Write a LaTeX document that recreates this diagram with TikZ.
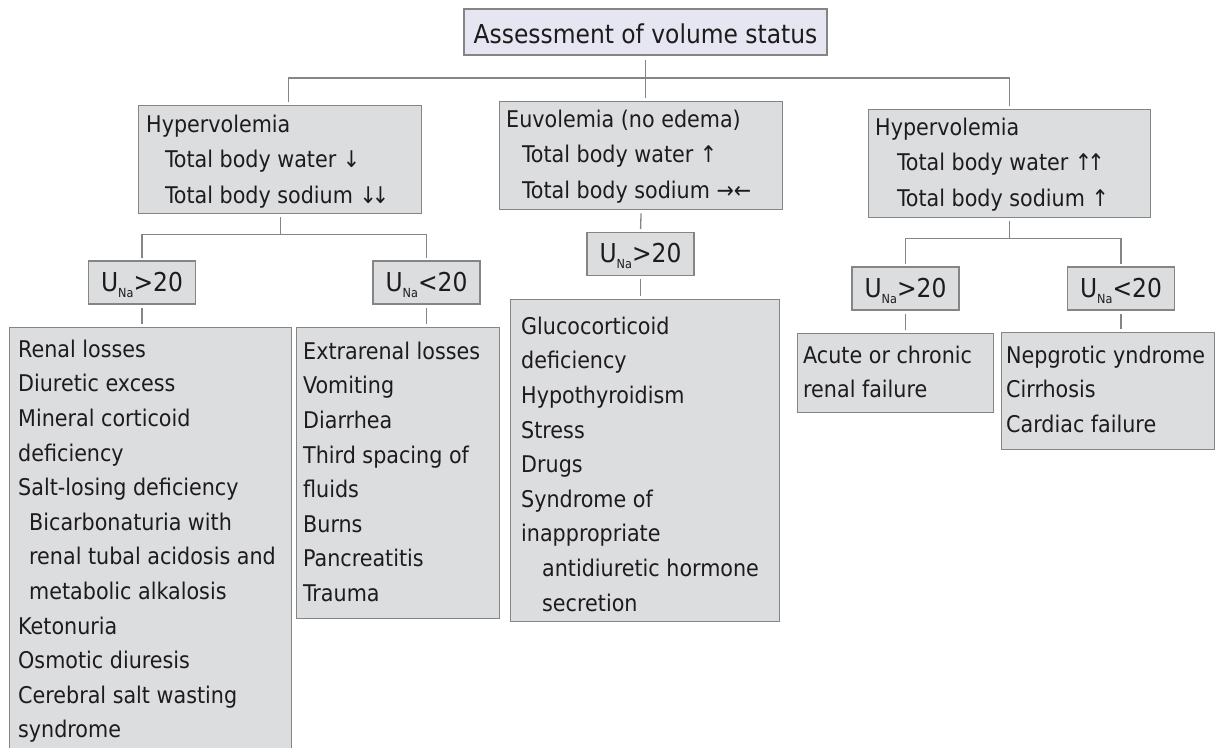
\documentclass[tikz,border=0pt]{standalone}
\usepackage{fontspec}
\setmainfont{DejaVu Sans Condensed}
\usetikzlibrary{calc}
\definecolor{boxfill}{HTML}{DCDDDF}
\definecolor{topfill}{HTML}{E6E5F2}
\definecolor{edge}{HTML}{858585}
\definecolor{ink}{HTML}{1E1B1C}
\newcommand\st{\rule{0pt}{19pt}}
\newcommand\Na{\raisebox{-6pt}{\fontsize{12.5}{12.5}\selectfont Na}}
\begin{document}
\begin{tikzpicture}[x=1pt,y=-1pt,
  box/.style={draw=edge, line width=1.3pt, fill=boxfill, inner sep=0pt, anchor=north west},
  topbox/.style={draw=edge, line width=1.3pt, fill=topfill, inner sep=0pt, text=ink,
    font=\fontsize{26}{30}\selectfont, text height=22pt, text depth=0pt},
  ubox/.style={draw=edge, line width=1.3pt, fill=boxfill, inner sep=0pt, text=ink,
    minimum width=107pt, minimum height=43pt,
    font=\fontsize{26}{30}\selectfont, text height=17.5pt, text depth=0.5pt},
  ltxt/.style={anchor=north west, inner sep=0pt, align=left, text=ink,
    font=\fontsize{23}{35.5}\selectfont},
  btxt/.style={anchor=north west, inner sep=0pt, align=left, text=ink,
    font=\fontsize{23}{34.6}\selectfont},
  conn/.style={draw=edge, line width=1.3pt, shorten <=3pt, shorten >=3pt}]
\useasboundingbox (0,0) rectangle (1215,747);

% top
\node[topbox, minimum width=363pt, minimum height=46pt] (top) at (645.5,32) {Assessment of volume status};

% level 2
\node[box, minimum width=283pt, minimum height=108pt] (l2a) at (138,105) {};
\node[box, minimum width=283pt, minimum height=108pt] (l2b) at (499,101) {};
\node[box, minimum width=282pt, minimum height=108pt] (l2c) at (868,109) {};
\node[ltxt] (l2at) at (146,113) {\st Hypervolemia\\\hspace*{19pt}Total body water ↓\\\hspace*{19pt}Total body sodium ↓\kern-5pt↓};
\node[ltxt] (l2bt) at (506,108) {\st Euvolemia (no edema)\\\hspace*{16pt}Total body water ↑\\\hspace*{16pt}Total body sodium →←};
\node[ltxt] (l2ct) at (875,116) {\st Hypervolemia\\\hspace*{22pt}Total body water ↑\kern-5pt↑\\\hspace*{22pt}Total body sodium ↑};

% level 3
\node[ubox] (u1) at (142,282.5) {U\Na>20};
\node[ubox] (u2) at (426.5,282.5) {U\Na<20};
\node[ubox] (um) at (640.5,254) {U\Na>20};
\node[ubox] (u3) at (905.5,288.5) {U\Na>20};
\node[ubox] (u4) at (1121,288.5) {U\Na<20};

% bottom boxes
\node[box, minimum width=282pt, minimum height=432pt] (b1) at (9,327) {};
\node[box, minimum width=203pt, minimum height=291pt] (b2) at (296,327) {};
\node[box, minimum width=269pt, minimum height=322pt] (b3) at (510,299) {};
\node[box, minimum width=196pt, minimum height=79pt] (b4) at (797,333) {};
\node[box, minimum width=213pt, minimum height=117pt] (b5) at (1001,332) {};

\node[btxt] (b1t) at (18,338) {\st Renal losses\\Diuretic excess\\Mineral corticoid\\deficiency\\Salt-losing deficiency\\\hspace*{11pt}Bicarbonaturia with\\\hspace*{11pt}renal tubal acidosis and\\\hspace*{11pt}metabolic alkalosis\\Ketonuria\\Osmotic diuresis\\Cerebral salt wasting\\syndrome};
\node[btxt] (b2t) at (303,340) {\st Extrarenal losses\\Vomiting\\Diarrhea\\Third spacing of\\fluids\\Burns\\Pancreatitis\\Trauma};
\node[btxt] (b3t) at (521,315) {\st Glucocorticoid\\deficiency\\Hypothyroidism\\Stress\\Drugs\\Syndrome of\\inappropriate\\\hspace*{21pt}antidiuretic hormone\\\hspace*{21pt}secretion};
\node[btxt] (b4t) at (803,344) {\st Acute or chronic\\renal failure};
\node[btxt] (b5t) at (1006,344) {\st Nepgrotic yndrome\\Cirrhosis\\Cardiac failure};

% connectors
\coordinate (bus1) at (0,78);
\draw[conn, shorten <=4pt] (top.south) -- (top.south |- l2b.north);
\draw[conn] ($(l2a.north)+(8.5,0)$) |- (l2c.north |- bus1) -- (l2c.north);

\coordinate (jA) at ($(l2a.south)+(0,20)$);
\draw[conn, shorten >=0pt] (l2a.south) -- (jA);
\draw[conn, shorten <=2pt, shorten >=2pt] (u1.north) |- (jA) -| (u2.north);
\draw[conn] (u1.south) -- (u1.south |- b1.north);
\draw[conn] (u2.south) -- (u2.south |- b2.north);

\draw[conn] (l2b.south) -- (um.north);
\draw[conn] (um.south) -- (um.south |- b3.north);

\coordinate (jC) at ($(l2c.south)+(0,20)$);
\draw[conn, shorten >=0pt] (l2c.south) -- (jC);
\draw[conn, shorten <=2pt, shorten >=2pt] (u3.north) |- (jC) -| (u4.north);
\draw[conn] (u3.south) -- (u3.south |- b4.north);
\draw[conn] (u4.south) -- (u4.south |- b5.north);
\end{tikzpicture}
\end{document}
